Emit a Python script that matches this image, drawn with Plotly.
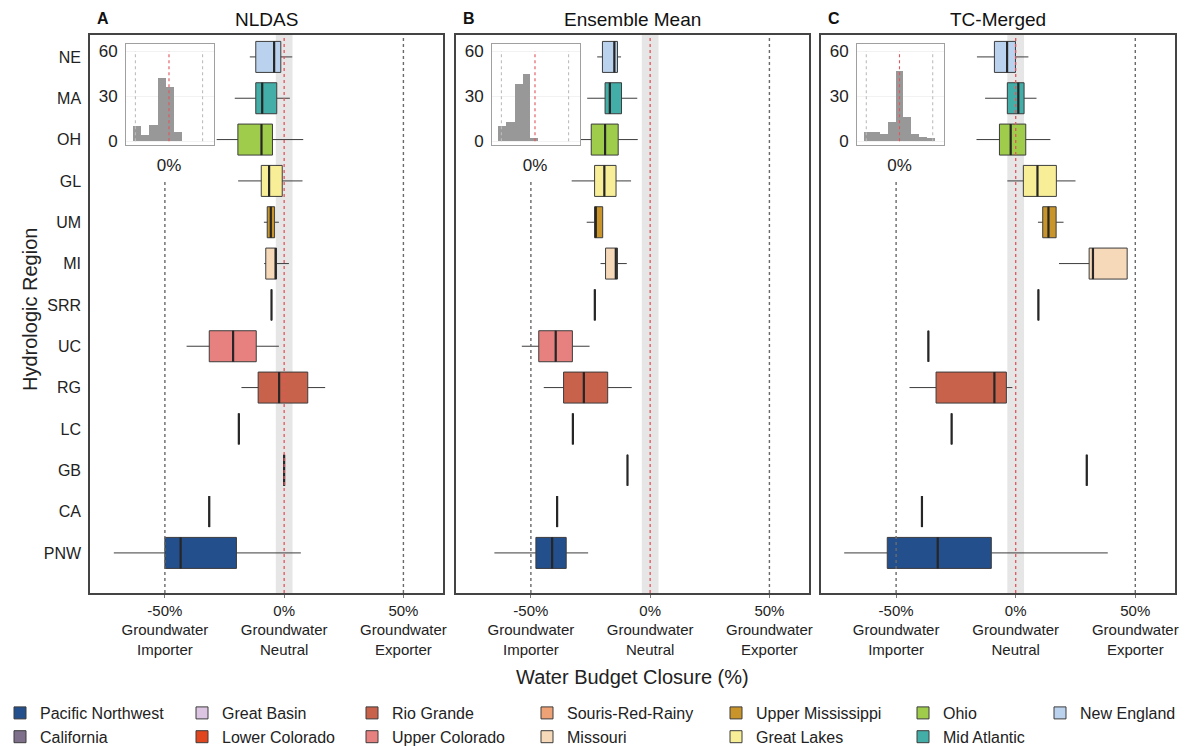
import plotly.graph_objects as go

W, H = 1192, 746

# ---------------- data ----------------
regions = ["NE", "MA", "OH", "GL", "UM", "MI", "SRR", "UC", "RG", "LC", "GB", "CA", "PNW"]
region_names = ["New England", "Mid Atlantic", "Ohio", "Great Lakes", "Upper Mississippi",
                "Missouri", "Souris-Red-Rainy", "Upper Colorado", "Rio Grande",
                "Lower Colorado", "Great Basin", "California", "Pacific Northwest"]
region_colors = ["#BBD2EE", "#43ADA7", "#9FCC4B", "#F8EE98", "#C9952B", "#F6D9B8",
                 "#EFA276", "#E7817F", "#C9624B", "#E2461E", "#DCC5E2", "#7E6F8B", "#234F8C"]

panel_titles = ["NLDAS", "Ensemble Mean", "TC-Merged"]
panel_letters = ["A", "B", "C"]

nldas_lower = [-14.4, -20.7, -28.3, -19.3, -8.5, -8.4, -5.3, -40.9, -17.9, -19.0, 0.0, -31.4, -71.4]
nldas_q1 = [-11.9, -11.9, -19.4, -9.6, -7.1, -7.7, -5.3, -31.4, -10.9, -19.0, 0.0, -31.4, -50.0]
nldas_med = [-4.2, -9.2, -9.5, -6.3, -5.6, -3.6, -5.3, -21.4, -2.1, -19.0, 0.0, -31.4, -43.4]
nldas_q3 = [-1.4, -3.1, -4.9, -0.8, -4.0, -3.2, -5.3, -11.7, 9.9, -19.0, 0.0, -31.4, -20.0]
nldas_upper = [3.4, 2.4, 8.0, 7.7, -2.2, 2.0, -5.3, -2.2, 17.2, -19.0, 0.0, -31.4, 7.0]

ens_lower = [-22.2, -26.4, -30.1, -32.9, -26.6, -20.8, -23.2, -53.8, -44.6, -32.4, -9.5, -39.0, -65.3]
ens_q1 = [-20.0, -18.9, -24.7, -23.3, -23.3, -18.7, -23.2, -46.7, -36.3, -32.4, -9.5, -39.0, -47.9]
ens_med = [-15.0, -16.9, -18.9, -19.2, -22.8, -14.4, -23.2, -39.6, -27.8, -32.4, -9.5, -39.0, -41.1]
ens_q3 = [-13.7, -12.0, -13.4, -14.3, -19.9, -13.7, -23.2, -32.6, -17.8, -32.4, -9.5, -39.0, -35.2]
ens_upper = [-12.2, -5.4, -5.2, -8.0, -19.9, -9.8, -23.2, -25.4, -7.7, -32.4, -9.5, -39.0, -26.0]

tc_lower = [-16.2, -12.8, -16.4, -3.5, 9.3, 18.1, 9.5, -36.5, -44.4, -26.8, 29.7, -39.2, -71.7]
tc_q1 = [-8.9, -3.5, -6.8, 3.2, 11.3, 30.7, 9.5, -36.5, -33.3, -26.8, 29.7, -39.2, -53.7]
tc_med = [-3.6, 1.1, -2.1, 9.1, 13.7, 32.3, 9.5, -36.5, -8.9, -26.8, 29.7, -39.2, -32.6]
tc_q3 = [-0.1, 3.5, 4.2, 17.0, 16.9, 46.6, 9.5, -36.5, -3.9, -26.8, 29.7, -39.2, -10.2]
tc_upper = [5.3, 8.7, 14.5, 25.0, 20.0, 46.6, 9.5, -36.5, -1.4, -26.8, 29.7, -39.2, 38.5]

# inset histograms (bin edges in %, counts)
nldas_hist_edges = [-53, -41.5, -29.5, -17, -5, 7, 19]
nldas_hist_counts = [10, 4, 11, 42, 36, 6]
ens_hist_edges = [-54.5, -42.5, -30.5, -18.5, -7, 4]
ens_hist_counts = [10, 13, 38, 45, 2]
tc_hist_edges = [-53, -41.5, -30, -17, -5, 5, 18, 30, 42, 53]
tc_hist_counts = [6, 6, 5, 13, 47, 16, 5, 3, 2]

x_tickvals = [-50, 0, 50]
x_ticktext = ["-50%<br>Groundwater<br>Importer", "0%<br>Groundwater<br>Neutral",
              "50%<br>Groundwater<br>Exporter"]
inset_tickvals = [0, 30, 60]

# legend layout: columns of region codes
legend_columns = [["PNW", "CA"], ["GB", "LC"], ["RG", "UC"], ["SRR", "MI"],
                  ["UM", "GL"], ["OH", "MA"], ["NE"]]

# ---------------- geometry ----------------
FONT = "Liberation Sans, Arial, sans-serif"
main_x_px = [(90, 443), (456, 809), (821, 1175)]
main_y_px = (35, 593)
inset_x_px = [(126, 214), (492, 580), (857, 944)]
inset_y_px = (44, 145)
legend_x_px = [0, 182, 352, 527, 716, 903, 1040]
BOX_W = 0.75
X_RANGE = [-81.4, 66.6]
Y_RANGE = [-0.97, 12.53]


def fx(p):
    return p / W


def fy(p):
    return 1 - p / H


panels = [
    (nldas_lower, nldas_q1, nldas_med, nldas_q3, nldas_upper, nldas_hist_edges, nldas_hist_counts),
    (ens_lower, ens_q1, ens_med, ens_q3, ens_upper, ens_hist_edges, ens_hist_counts),
    (tc_lower, tc_q1, tc_med, tc_q3, tc_upper, tc_hist_edges, tc_hist_counts),
]

n = len(regions)
positions = [n - 1 - i for i in range(n)]

leg_of = {}
for ci, col in enumerate(legend_columns):
    for code in col:
        leg_of[code] = "legend" if ci == 0 else f"legend{ci + 1}"

fig = go.Figure()
shapes = []
annotations = []

for pi, (lo, q1, med, q3, up, edges, counts) in enumerate(panels):
    xa = "x" if pi == 0 else f"x{pi + 1}"
    ya = "y" if pi == 0 else f"y{pi + 1}"
    order = [regions.index(c) for col in legend_columns for c in col]
    for i in order:
        fig.add_trace(go.Box(
            orientation="h",
            y=[positions[i]], q1=[q1[i]], median=[med[i]], q3=[q3[i]],
            lowerfence=[lo[i]], upperfence=[up[i]],
            width=BOX_W, whiskerwidth=0,
            fillcolor=region_colors[i],
            line=dict(color="#3c3c3c", width=1),
            name=region_names[i], legendgroup=regions[i],
            legend=leg_of[regions[i]], showlegend=(pi == 0),
            xaxis=xa, yaxis=ya, hoverinfo="skip", boxpoints=False,
        ))
    # median overlays
    mx, my = [], []
    for i in range(n):
        mx += [med[i], med[i], None]
        my += [positions[i] - BOX_W / 2, positions[i] + BOX_W / 2, None]
    fig.add_trace(go.Scatter(x=mx, y=my, mode="lines", line=dict(color="#262626", width=2.2),
                             showlegend=False, hoverinfo="skip", xaxis=xa, yaxis=ya))

    # inset histogram
    ixa, iya = f"x{pi + 4}", f"y{pi + 4}"
    centers = [(edges[k] + edges[k + 1]) / 2 for k in range(len(counts))]
    widths = [edges[k + 1] - edges[k] for k in range(len(counts))]
    fig.add_trace(go.Bar(x=centers, y=counts, width=widths, marker=dict(color="#989898", line=dict(width=0)),
                         showlegend=False, hoverinfo="skip", xaxis=ixa, yaxis=iya))

    # reference shapes, main panel
    shapes.append(dict(type="rect", xref=xa, yref=f"{ya} domain", x0=-3.5, x1=3.5, y0=0, y1=1,
                       fillcolor="#E6E6E6", line=dict(width=0), layer="below"))
    shapes.append(dict(type="line", xref=xa, yref=f"{ya} domain", x0=0, x1=0, y0=0, y1=1,
                       line=dict(color="#E2555C", width=1.3, dash="dot"), layer="above"))
    shapes.append(dict(type="line", xref=xa, yref=f"{ya} domain", x0=50, x1=50, y0=0, y1=1,
                       line=dict(color="#6a6a6a", width=1.4, dash="dot"), layer="above"))
    shapes.append(dict(type="line", xref=xa, yref=f"{ya} domain", x0=-50, x1=-50, y0=0, y1=0.738,
                       line=dict(color="#6a6a6a", width=1.4, dash="dot"), layer="above"))
    # inset shapes
    for xv, c in [(-50, "#BDBDBD"), (50, "#BDBDBD"), (0, "#E2555C")]:
        shapes.append(dict(type="line", xref=ixa, yref=iya, x0=xv, x1=xv, y0=0, y1=60,
                           line=dict(color=c, width=1.1, dash="dot"), layer="above"))

    # titles
    x0p, x1p = main_x_px[pi]
    annotations.append(dict(text=f"<b>{panel_letters[pi]}</b>", x=fx(x0p + 13), y=fy(18), xref="paper",
                            yref="paper", xanchor="center", yanchor="middle", showarrow=False,
                            font=dict(size=16, color="#111", family=FONT)))
    annotations.append(dict(text=panel_titles[pi], x=fx((x0p + x1p) / 2), y=fy(19), xref="paper",
                            yref="paper", xanchor="center", yanchor="middle", showarrow=False,
                            font=dict(size=19, color="#111", family=FONT)))

layout = dict(
    width=W, height=H, margin=dict(l=0, r=0, t=0, b=0, autoexpand=False),
    paper_bgcolor="white", plot_bgcolor="white",
    font=dict(family=FONT, color="#222", size=14),
    shapes=shapes, annotations=annotations, bargap=0,
)

for pi in range(3):
    xk = "xaxis" if pi == 0 else f"xaxis{pi + 1}"
    yk = "yaxis" if pi == 0 else f"yaxis{pi + 1}"
    ya = "y" if pi == 0 else f"y{pi + 1}"
    xa = "x" if pi == 0 else f"x{pi + 1}"
    layout[xk] = dict(domain=[fx(main_x_px[pi][0]), fx(main_x_px[pi][1])], anchor=ya,
                      range=X_RANGE, showgrid=False, zeroline=False, showline=True, mirror=True,
                      linecolor="#444", linewidth=1.5, tickvals=x_tickvals, ticktext=x_ticktext,
                      ticks="outside", ticklen=3, tickcolor="#777", ticklabelstandoff=0,
                      tickfont=dict(size=15, color="#222"))
    layout[yk] = dict(domain=[fy(main_y_px[1]), fy(main_y_px[0])], anchor=xa,
                      range=Y_RANGE, showgrid=False, zeroline=False, showline=True, mirror=True,
                      linecolor="#444", linewidth=1.5, tickvals=positions, ticktext=regions,
                      showticklabels=(pi == 0), ticks="", ticklabelstandoff=4,
                      tickfont=dict(size=16, color="#222"))
    ixk, iyk = f"xaxis{pi + 4}", f"yaxis{pi + 4}"
    layout[ixk] = dict(domain=[fx(inset_x_px[pi][0]), fx(inset_x_px[pi][1])], anchor=f"y{pi + 4}",
                       range=[-64, 67], showgrid=False, zeroline=False, showline=True, mirror=True,
                       linecolor="#A0A0A0", linewidth=1, tickvals=[0], ticktext=["0%"], ticks="",
                       ticklabelstandoff=5, tickfont=dict(size=17, color="#222"))
    layout[iyk] = dict(domain=[fy(inset_y_px[1]), fy(inset_y_px[0])], anchor=f"x{pi + 4}",
                       range=[-2.5, 64.7], showgrid=True, gridcolor="#F2F2F2", zeroline=False,
                       showline=True, mirror=True, linecolor="#A0A0A0", linewidth=1,
                       tickvals=inset_tickvals, ticks="", ticklabelstandoff=4,
                       tickfont=dict(size=17, color="#222"))

# legends
for ci in range(len(legend_columns)):
    key = "legend" if ci == 0 else f"legend{ci + 1}"
    layout[key] = dict(x=fx(legend_x_px[ci]), y=fy(696), xanchor="left", yanchor="top",
                       orientation="v", bgcolor="rgba(0,0,0,0)", borderwidth=0,
                       font=dict(size=16, color="#222", family=FONT), tracegroupgap=0,
                       traceorder="normal", itemclick=False, itemdoubleclick=False)

annotations.append(dict(text="Water Budget Closure (%)", x=fx(632), y=fy(677), xref="paper", yref="paper",
                        xanchor="center", yanchor="middle",
                        showarrow=False, font=dict(size=20, color="#222", family=FONT)))
annotations.append(dict(text="Hydrologic Region", x=fx(30), y=fy(310), xref="paper", yref="paper",
                        xanchor="center", yanchor="middle",
                        showarrow=False, textangle=-90, font=dict(size=20, color="#222", family=FONT)))

fig.update_layout(**layout)
fig.write_html("out.html", config={"displayModeBar": False},
               post_script="document.body.style.margin='0px';")
